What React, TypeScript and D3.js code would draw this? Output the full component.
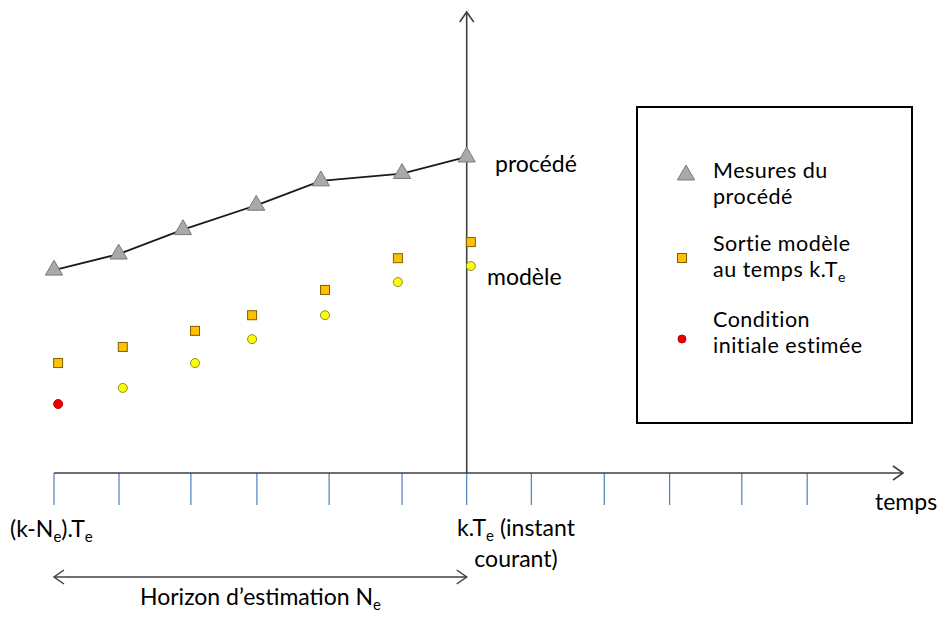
import React from "react";
import * as d3 from "d3";

// Time positions (unit = one sampling period, k at 6) and values (arbitrary units)
const tickTimes = [0, 0.945, 1.99, 2.95, 4.0, 5.06, 6, 6.94, 8.0, 8.95, 10.0, 10.95];
const processTimes = [0, 0.94, 1.875, 2.94, 3.88, 5.06, 6.0];
const processValues = [44.1, 47.6, 52.9, 58.2, 63.5, 65.1, 68.7];
const modelTimes = [0.06, 1.0, 2.05, 2.88, 3.94, 5.0, 6.06];
const modelValues = [23.9, 27.4, 30.9, 34.3, 39.8, 46.7, 50.2];
const stateTimes = [1.0, 2.05, 2.88, 3.94, 5.0, 6.06];
const stateValues = [18.5, 23.9, 29.1, 34.3, 41.5, 45.0];
const initTimes = [0.06];
const initValues = [15.0];

const FONT = "Lato, 'Open Sans', sans-serif";

const W = 944;
const H = 632;

const x = d3.scaleLinear().domain([0, 6]).range([54, 466.7]);
const y = d3.scaleLinear().domain([0, 100]).range([473, 13]);

const axisColor = "#404040";
const tickColor = "#4a7ebb";

export default function App() {
  const tri = d3.symbol().type(d3.symbolTriangle).size(128)() as string;
  const line = d3
    .line<number>()
    .x((_, i) => x(processTimes[i]))
    .y((d) => y(d));

  const x0 = x(0);
  const xk = x(6);
  const axisY = y(0);
  const xEnd = 903;
  const yTop = 12;

  const chevronR = (tx: number, ty: number) =>
    `M${tx - 10},${ty - 7} L${tx},${ty} L${tx - 10},${ty + 7}`;
  const chevronL = (tx: number, ty: number) =>
    `M${tx + 10},${ty - 7} L${tx},${ty} L${tx + 10},${ty + 7}`;
  const chevronU = (tx: number, ty: number) =>
    `M${tx - 7},${ty + 10} L${tx},${ty} L${tx + 7},${ty + 10}`;

  const LH = 26;
  const LFS = 21.5;
  const LLS = 0.5;

  return (
    <svg
      width={W}
      height={H}
      style={{ position: "absolute", left: 0, top: 0, background: "#fff" }}
      fontFamily={FONT}
    >
      <rect x={0} y={0} width={W} height={H} fill="#fff" />

      {/* ticks */}
      {tickTimes.map((t, i) => (
        <line
          key={i}
          x1={x(t)}
          x2={x(t)}
          y1={axisY}
          y2={axisY + 32}
          stroke={tickColor}
          strokeWidth={1.2}
        />
      ))}

      {/* axes */}
      <line x1={x0} x2={xEnd} y1={axisY} y2={axisY} stroke={axisColor} strokeWidth={1.6} />
      <path d={chevronR(xEnd, axisY)} fill="none" stroke={axisColor} strokeWidth={1.6} />
      <line x1={xk} x2={xk} y1={axisY} y2={yTop} stroke={axisColor} strokeWidth={1.6} />
      <path d={chevronU(xk, yTop)} fill="none" stroke={axisColor} strokeWidth={1.6} />

      {/* process line */}
      <path d={line(processValues) as string} fill="none" stroke="#1a1a1a" strokeWidth={1.8} />
      {processValues.map((v, i) => (
        <path
          key={i}
          d={tri}
          transform={`translate(${x(processTimes[i])},${y(v)})`}
          fill="#a9a9a9"
          stroke="#7a7a7a"
          strokeWidth={1}
        />
      ))}

      {/* model output squares */}
      {modelValues.map((v, i) => (
        <rect
          key={i}
          x={x(modelTimes[i]) - 4.5}
          y={y(v) - 4.5}
          width={9}
          height={9}
          fill="#ffc000"
          stroke="#7f6000"
          strokeWidth={1}
        />
      ))}

      {/* model state circles */}
      {stateValues.map((v, i) => (
        <circle
          key={i}
          cx={x(stateTimes[i])}
          cy={y(v)}
          r={4.5}
          fill="#ffff00"
          stroke="#8a8a30"
          strokeWidth={1}
        />
      ))}

      {/* initial condition */}
      {initValues.map((v, i) => (
        <circle
          key={i}
          cx={x(initTimes[i])}
          cy={y(v)}
          r={4.5}
          fill="#ee0000"
          stroke="#c00000"
          strokeWidth={1}
        />
      ))}

      {/* labels near vertical axis */}
      <text x={495} y={172} fontSize={23} fill="#000">
        procédé
      </text>
      <text x={487} y={285} fontSize={23} fill="#000">
        modèle
      </text>

      {/* x labels */}
      <text x={10} y={537} fontSize={23} fill="#000">
        (k-N
        <tspan fontSize={15} dy={5}>e</tspan>
        <tspan dy={-5}>).T</tspan>
        <tspan fontSize={15} dy={5}>e</tspan>
      </text>
      <text fontSize={23} fill="#000" textAnchor="middle">
        <tspan x={516} y={536}>k.T</tspan>
        <tspan fontSize={15} dy={5}>e</tspan>
        <tspan dy={-5}> (instant</tspan>
      </text>
      <text x={516} y={567} fontSize={23} fill="#000" textAnchor="middle">
        courant)
      </text>
      <text x={875} y={510} fontSize={23} fill="#000">
        temps
      </text>

      {/* horizon arrow */}
      <line x1={x0} x2={xk} y1={577} y2={577} stroke={axisColor} strokeWidth={1.5} />
      <path d={chevronL(x0, 577)} fill="none" stroke={axisColor} strokeWidth={1.5} />
      <path d={chevronR(xk, 577)} fill="none" stroke={axisColor} strokeWidth={1.5} />
      <text x={140} y={605} fontSize={23} fill="#000">
        Horizon d’estimation N
        <tspan fontSize={15} dy={5}>e</tspan>
      </text>

      {/* legend */}
      <rect x={637} y={107} width={275} height={316} fill="#fff" stroke="#000" strokeWidth={2} />
      <path d={tri} transform="translate(686,175)" fill="#a9a9a9" stroke="#7a7a7a" strokeWidth={1} />
      <text fontSize={LFS} letterSpacing={LLS} fill="#000">
        <tspan x={713} y={178}>Mesures du</tspan>
        <tspan x={713} y={178 + LH}>procédé</tspan>
      </text>

      <rect x={682 - 4.5} y={258 - 4.5} width={9} height={9} fill="#ffc000" stroke="#7f6000" strokeWidth={1} />
      <text fontSize={LFS} letterSpacing={LLS} fill="#000">
        <tspan x={713} y={251}>Sortie modèle</tspan>
        <tspan x={713} y={251 + LH}>au temps k.T</tspan>
        <tspan fontSize={14} dy={5}>e</tspan>
      </text>

      <circle cx={682} cy={339} r={4} fill="#ee0000" stroke="#c00000" strokeWidth={1} />
      <text fontSize={LFS} letterSpacing={LLS} fill="#000">
        <tspan x={713} y={327}>Condition</tspan>
        <tspan x={713} y={327 + LH}>initiale estimée</tspan>
      </text>
    </svg>
  );
}
